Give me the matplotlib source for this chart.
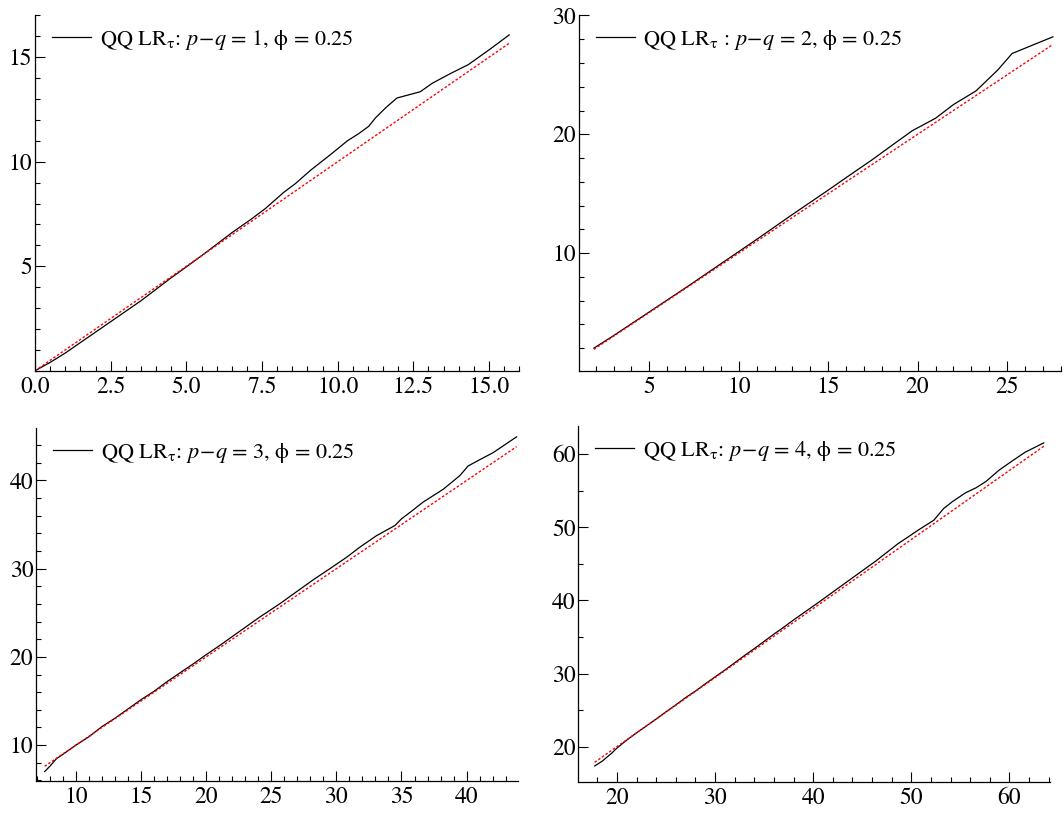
import matplotlib
matplotlib.use('Agg')
import matplotlib.pyplot as plt
from matplotlib.ticker import MultipleLocator, FormatStrFormatter

plt.rcParams['font.family'] = ['STIXGeneral', 'Liberation Serif', 'DejaVu Serif']
plt.rcParams['mathtext.fontset'] = 'stix'
plt.rcParams['font.size'] = 16

q1_x = [0.0, 0.5, 1.0, 1.5, 2.0, 2.5, 3.0, 3.5, 4.0, 4.5, 5.0, 5.5, 6.0, 6.5,
        7.14, 7.6, 8.23, 8.6, 9.11, 9.77, 10.32, 10.7, 11.03, 11.25, 11.6,
        11.96, 12.73, 13.12, 13.7, 14.32, 15.0, 15.67]
q1_y = [0.0, 0.4, 0.85, 1.35, 1.85, 2.35, 2.85, 3.35, 3.9, 4.45, 4.97, 5.5, 6.05, 6.6,
        7.25, 7.75, 8.55, 8.95, 9.6, 10.35, 11.0, 11.35, 11.7, 12.1, 12.6,
        13.05, 13.35, 13.75, 14.2, 14.65, 15.35, 16.07]

q2_x = [1.9, 3.0, 5.0, 7.0, 9.0, 11.0, 13.0, 15.0, 16.0, 17.45, 18.5, 19.7,
        21.0, 22.0, 23.26, 24.47, 25.28, 27.56]
q2_y = [2.0, 3.05, 5.05, 7.05, 9.1, 11.15, 13.25, 15.3, 16.35, 17.85, 19.0, 20.3,
        21.35, 22.5, 23.65, 25.4, 26.8, 28.2]

q3_x = [7.6, 8.0, 8.5, 9.0, 10.0, 11.0, 12.0, 13.0, 14.0, 15.0, 16.0, 17.0, 18.0,
        19.0, 20.0, 21.0, 22.0, 23.0, 24.0, 25.68, 27.0, 28.23, 29.5, 30.79,
        31.81, 33.09, 34.5, 35.0, 35.8, 36.66, 38.2, 39.48, 40.12, 41.0, 42.03,
        43.84]
q3_y = [7.0, 7.6, 8.45, 8.95, 10.0, 10.95, 12.1, 13.05, 14.1, 15.15, 16.1, 17.2, 18.2,
        19.2, 20.25, 21.25, 22.3, 23.35, 24.4, 26.05, 27.45, 28.75, 30.0, 31.3,
        32.45, 33.75, 34.9, 35.65, 36.55, 37.55, 39.0, 40.55, 41.65, 42.35, 43.15,
        44.95]

q4_x = [17.73, 18.5, 19.5, 20.0, 21.0, 22.0, 23.0, 24.0, 25.0, 26.0, 27.0, 28.0,
        29.0, 30.0, 31.0, 32.0, 33.0, 34.0, 35.0, 36.0, 37.0, 38.0, 39.0, 40.6,
        42.3, 44.0, 46.4, 48.6, 50.8, 52.3, 53.3, 54.2, 55.5, 56.6, 57.6, 58.9,
        60.2, 61.6, 63.5]
q4_y = [17.37, 18.03, 19.16, 19.82, 20.91, 21.9, 22.84, 23.79, 24.78, 25.72, 26.72,
        27.61, 28.6, 29.55, 30.49, 31.48, 32.47, 33.42, 34.41, 35.4, 36.34, 37.34,
        38.28, 39.79, 41.44, 43.09, 45.41, 47.72, 49.7, 50.98, 52.58, 53.52, 54.7,
        55.41, 56.26, 57.77, 59.0, 60.27, 61.55]

# reference line end points (red)
ref1 = ([0.0, 15.67], [0.0, 15.67])
ref2 = ([1.9, 27.56], [1.9, 27.56])
ref3 = ([7.6, 43.84], [7.6, 43.84])
ref4 = ([17.73, 63.5], [17.87, 61.08])

labels = [
    'QQ LR$_{\\mathrm{\\tau}}$: $p\\!-\\!q$ = 1, \u03d5 = 0.25',
    'QQ LR$_{\\mathrm{\\tau}}$ : $p\\!-\\!q$ = 2, \u03d5 = 0.25',
    'QQ LR$_{\\mathrm{\\tau}}$: $p\\!-\\!q$ = 3, \u03d5 = 0.25',
    'QQ LR$_{\\mathrm{\\tau}}$: $p\\!-\\!q$ = 4, \u03d5 = 0.25',
]

panels = [
    # rect, data, ref, xlim, ylim, x major/minor, y ticks, y minor, x format
    ([0.033, 0.544, 0.455, 0.437], q1_x, q1_y, ref1, (0, 16.0), (0, 17.0), 2.5, 0.5, [5, 10, 15], 1, '%.1f'),
    ([0.544, 0.544, 0.453, 0.437], q2_x, q2_y, ref2, (1.06, 28.0), (0.1, 30.0), 5, 1, [10, 20, 30], 2, '%d'),
    ([0.034, 0.039, 0.453, 0.434], q3_x, q3_y, ref3, (6.95, 43.96), (5.9, 45.9), 5, 1, [10, 20, 30, 40], 2, '%d'),
    ([0.5435, 0.0385, 0.443, 0.437], q4_x, q4_y, ref4, (16.06, 64.1), (15.22, 63.8), 10, 2, [20, 30, 40, 50, 60], 5, '%d'),
]

fig = plt.figure(figsize=(10.64, 8.13), dpi=100)

for i, (rect, x, y, ref, xl, yl, xmaj, xmin, yt, ymin, fmt) in enumerate(panels):
    ax = fig.add_axes(rect)
    ax.plot(x, y, color='black', lw=0.9, label=labels[i])
    ax.plot(ref[0], ref[1], color='red', lw=1.0, linestyle=(0, (1.8, 1.4)))
    ax.set_xlim(xl)
    ax.set_ylim(yl)
    ax.xaxis.set_major_locator(MultipleLocator(xmaj))
    ax.xaxis.set_minor_locator(MultipleLocator(xmin))
    ax.xaxis.set_major_formatter(FormatStrFormatter(fmt))
    ax.set_yticks(yt)
    ax.yaxis.set_minor_locator(MultipleLocator(ymin))
    for s in ['top', 'right']:
        ax.spines[s].set_visible(False)
    for s in ['left', 'bottom']:
        ax.spines[s].set_linewidth(0.9)
    ax.tick_params(which='both', direction='in', width=0.8, labelsize=17)
    ax.tick_params(which='major', length=7)
    ax.tick_params(which='minor', length=3.5)
    ax.tick_params(axis='y', pad=2)
    ax.tick_params(axis='x', pad=4)
    ax.legend(handles=ax.lines[:1], loc='upper left', bbox_to_anchor=(0.035, 0.965),
              frameon=False, fontsize=16, handlelength=1.75, handletextpad=0.4,
              borderaxespad=0, borderpad=0)

fig.savefig('out.png', dpi=100)
